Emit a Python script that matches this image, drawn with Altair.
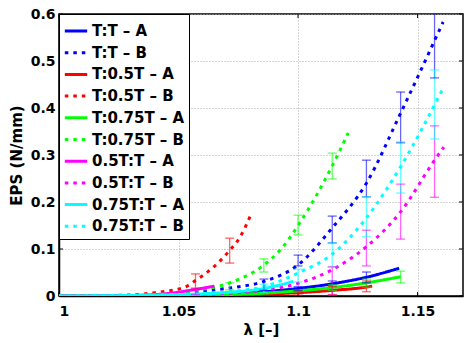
import altair as alt
import pandas as pd

# ---- series names / colours ----
series_names = ["T:T – A", "T:T – B", "T:0.5T – A", "T:0.5T – B", "T:0.75T – A",
                "T:0.75T – B", "0.5T:T – A", "0.5T:T – B", "0.75T:T – A", "0.75T:T – B"]
series_colors = ["#0000ff", "#0000ff", "#ff0000", "#ff0000", "#00ff00",
                 "#00ff00", "#ff00ff", "#ff00ff", "#00ffff", "#00ffff"]
series_dash = [[1, 0], [3.5, 5], [1, 0], [3.5, 5], [1, 0],
               [3.5, 5], [1, 0], [3.5, 5], [1, 0], [3.5, 5]]

# ---- fitted curves (x = stretch λ, y = EPS) ----
tt_a_x = [1.0, 1.0286, 1.0571, 1.0714, 1.0857, 1.1, 1.1143, 1.1286, 1.1423]
tt_a_y = [0.0, 0.0005, 0.002, 0.005, 0.009, 0.016, 0.026, 0.040, 0.059]
tt_b_x = [1.0, 1.0286, 1.0429, 1.0571, 1.0714, 1.0857, 1.1, 1.1143, 1.1286, 1.1429, 1.1607]
tt_b_y = [0.0, 0.001, 0.004, 0.009, 0.017, 0.031, 0.066, 0.145, 0.240, 0.389, 0.583]
t05_a_x = [1.0, 1.0571, 1.0857, 1.1, 1.1143, 1.1286, 1.131]
t05_a_y = [0.0, 0.001, 0.004, 0.007, 0.012, 0.019, 0.021]
t05_b_x = [1.0, 1.0286, 1.04, 1.0527, 1.0571, 1.0643, 1.0714, 1.0757, 1.08]
t05_b_y = [0.0, 0.002, 0.007, 0.019, 0.033, 0.060, 0.097, 0.125, 0.170]
t075_a_x = [1.0, 1.0571, 1.0857, 1.1, 1.1143, 1.1286, 1.1429]
t075_a_y = [0.0, 0.002, 0.006, 0.011, 0.018, 0.028, 0.041]
t075_b_x = [1.0, 1.0286, 1.0429, 1.0571, 1.0714, 1.0857, 1.0929, 1.1, 1.1143, 1.121]
t075_b_y = [0.0, 0.001, 0.004, 0.012, 0.028, 0.066, 0.100, 0.150, 0.277, 0.347]
h05_a_x = [1.0, 1.0286, 1.0429, 1.0571, 1.065]
h05_a_y = [0.0, 0.001, 0.004, 0.014, 0.021]
h05_b_x = [1.0, 1.0571, 1.0714, 1.0857, 1.1, 1.1143, 1.1286, 1.1429, 1.1571, 1.161]
h05_b_y = [0.0, 0.003, 0.006, 0.012, 0.027, 0.056, 0.105, 0.179, 0.289, 0.317]
h075_a_x = [1.0, 1.0286, 1.0571, 1.0714, 1.0857, 1.098]
h075_a_y = [0.0, 0.001, 0.004, 0.008, 0.016, 0.031]
h075_b_x = [1.0, 1.0571, 1.0714, 1.0857, 1.1, 1.1143, 1.1286, 1.1429, 1.1607]
h075_b_y = [0.0, 0.004, 0.009, 0.020, 0.049, 0.089, 0.166, 0.275, 0.442]

curve_x = [tt_a_x, tt_b_x, t05_a_x, t05_b_x, t075_a_x, t075_b_x, h05_a_x, h05_b_x, h075_a_x, h075_b_x]
curve_y = [tt_a_y, tt_b_y, t05_a_y, t05_b_y, t075_a_y, t075_b_y, h05_a_y, h05_b_y, h075_a_y, h075_b_y]

# ---- error bars (series index, λ, low, high) ----
err_series = [1, 1, 1, 1, 1, 1,
              0, 0, 0,
              3, 3,
              2, 2, 2,
              5, 5, 5, 5,
              4, 4, 4,
              6,
              7, 7, 7, 7,
              8,
              9, 9, 9, 9, 9]
err_x = [1.0857, 1.1, 1.1143, 1.1286, 1.1429, 1.1571,
         1.1, 1.1143, 1.1286,
         1.0571, 1.0714,
         1.1, 1.1143, 1.1286,
         1.0714, 1.0857, 1.1, 1.1143,
         1.1143, 1.1286, 1.1429,
         1.0571,
         1.1143, 1.1286, 1.1429, 1.1571,
         1.0857,
         1.1, 1.1143, 1.1286, 1.1429, 1.1571]
err_lo = [0.012, 0.064, 0.113, 0.211, 0.326, 0.464,
          0.012, 0.024, 0.028,
          0.015, 0.070,
          0.002, 0.003, 0.009,
          0.013, 0.051, 0.130, 0.249,
          0.012, 0.019, 0.028,
          0.003,
          0.002, 0.064, 0.121, 0.210,
          0.008,
          0.030, 0.062, 0.126, 0.219, 0.334]
err_hi = [0.036, 0.087, 0.170, 0.289, 0.434, 0.650,
          0.020, 0.032, 0.051,
          0.047, 0.123,
          0.010, 0.020, 0.032,
          0.028, 0.079, 0.172, 0.304,
          0.024, 0.036, 0.053,
          0.017,
          0.062, 0.140, 0.238, 0.362,
          0.025,
          0.057, 0.113, 0.211, 0.328, 0.481]

x_ticks = [1, 1.05, 1.1, 1.15]
y_ticks = [0, 0.1, 0.2, 0.3, 0.4, 0.5, 0.6]

# ---- tables ----
rows = []
for i, name in enumerate(series_names):
    for j, (xv, yv) in enumerate(zip(curve_x[i], curve_y[i])):
        rows.append({"series": name, "x": xv, "y": yv, "ord": j, "idx": i})
curves = pd.DataFrame(rows)

err = pd.DataFrame({
    "series": [series_names[k] for k in err_series],
    "x": err_x, "lo": err_lo, "hi": err_hi,
})
err_long = pd.concat([
    err.assign(cap=err["lo"]),
    err.assign(cap=err["hi"]),
])
xt = pd.DataFrame({"t": x_ticks})
yt = pd.DataFrame({"t": y_ticks})

font = "DejaVu Sans"
xscale = alt.Scale(domain=[1, 1.169], nice=False, zero=False)
yscale = alt.Scale(domain=[0, 0.6], nice=False)
cscale = alt.Scale(domain=series_names, range=series_colors)
dscale = alt.Scale(domain=series_names, range=series_dash)

leg = alt.Legend(title=None, orient="top-left", offset=0, symbolType="stroke",
                 symbolStrokeWidth=3, symbolSize=500, labelFont=font, labelFontSize=15,
                 labelFontWeight="bold", labelColor="black", labelOffset=3,
                 padding=4, rowPadding=0.7, strokeColor="black", fillColor="white",
                 labelLimit=200)

xaxis = alt.Axis(values=x_ticks, format="~g", title="λ [–]", grid=True, ticks=False,
                 labelPadding=8, titlePadding=4)
yaxis = alt.Axis(values=y_ticks, format="~g", title="EPS (N/mm)", grid=True, ticks=False,
                 labelPadding=4, titlePadding=6)

lines = alt.Chart(curves).mark_line(strokeWidth=3, strokeCap="butt", clip=True,
                                    interpolate="monotone").encode(
    x=alt.X("x:Q", scale=xscale, axis=xaxis),
    y=alt.Y("y:Q", scale=yscale, axis=yaxis),
    color=alt.Color("series:N", scale=cscale, legend=leg, sort=series_names),
    strokeDash=alt.StrokeDash("series:N", scale=dscale, legend=leg, sort=series_names),
    detail="series:N",
    order="ord:Q",
)

bars = alt.Chart(err).mark_rule(strokeWidth=1.3, opacity=0.6, clip=True).encode(
    x="x:Q", y="lo:Q", y2="hi:Q",
    color=alt.Color("series:N", scale=cscale, legend=None),
)
caps = alt.Chart(err_long).mark_tick(orient="horizontal", size=9, thickness=1.3,
                                     opacity=0.6, clip=True).encode(
    x="x:Q", y="cap:Q",
    color=alt.Color("series:N", scale=cscale, legend=None),
)

# inward axis ticks (MATLAB style) on all four sides
tick_bottom = alt.Chart(xt).mark_rule(color="black", strokeWidth=1).encode(
    x="t:Q", y=alt.value(282), y2=alt.value(278))
tick_top = alt.Chart(xt).mark_rule(color="black", strokeWidth=1).encode(
    x="t:Q", y=alt.value(0), y2=alt.value(4))
tick_left = alt.Chart(yt).mark_rule(color="black", strokeWidth=1).encode(
    y="t:Q", x=alt.value(0), x2=alt.value(4))
tick_right = alt.Chart(yt).mark_rule(color="black", strokeWidth=1).encode(
    y="t:Q", x=alt.value(404), x2=alt.value(400))

chart = alt.layer(tick_bottom, tick_top, tick_left, tick_right, lines, bars, caps).properties(
    width=404, height=282,
    background="white",
    autosize=alt.AutoSizeParams(type="none"),
    padding={"left": 59, "top": 14, "right": 1, "bottom": 47},
).configure_view(stroke="black", strokeWidth=1.5).configure_axis(
    labelFont=font, labelFontSize=14, labelFontWeight="bold", labelColor="black",
    titleFont=font, titleFontSize=15, titleFontWeight="bold", titleColor="black",
    domainColor="black", domainWidth=1.5,
    gridColor="#aaaaaa", gridDash=[1, 2], gridWidth=1,
)

chart.save("out.html", embed_options={"renderer": "svg", "actions": False})
